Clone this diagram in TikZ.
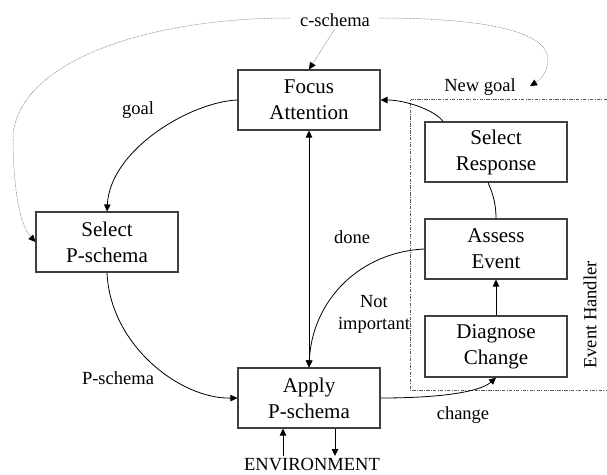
\documentclass[tikz,border=0pt]{standalone}
\usepackage{fontspec}
\setmainfont{Liberation Serif}
\usetikzlibrary{arrows.meta}
\begin{document}
\begin{tikzpicture}[x=1pt,y=-1pt,
  box/.style={draw=black!75, line width=1.1pt, fill=white,
    minimum width=142pt, minimum height=60pt, align=center, inner sep=0pt,
    font=\fontsize{21}{26}\selectfont},
  lbl/.style={font=\fontsize{18.5}{22}\selectfont, align=center, inner sep=2pt},
  tip/.tip={Triangle[length=7pt,width=6.5pt,color=black]},
  link/.style={line width=0.8pt, -tip},
  dlink/.style={line width=0.8pt, tip-tip},
  plain/.style={line width=0.8pt},
  hint/.style={draw=black!55, line width=0.5pt, dash pattern=on 0.7pt off 0.7pt, -tip},
  frame/.style={draw=black!65, line width=0.9pt,
    dash pattern=on 3.3pt off 1.3pt on 1pt off 1.3pt}
]
\useasboundingbox (0,0) rectangle (607,474);

% event handler frame (open to the right)
\draw[frame] (607,99.5) -- (410,99.5) -- (410,390) -- (607,390);

% process boxes
\node[box] (focus)  at (309,100)   {Focus\\Attention};
\node[box] (selp)   at (107,242)   {Select\\P-schema};
\node[box] (apply)  at (309,398)   {Apply\\P-schema};
\node[box] (selr)   at (496,152)   {Select\\Response};
\node[box] (assess) at (496,249)   {Assess\\Event};
\node[box, minimum height=61pt] (diag) at (496,346.5) {Diagnose\\Change};

% labels
\node[lbl] (cs)     at (335,20)  {c-schema};
\node[lbl] (ng)     at (480,87)  {New goal};
\node[lbl] (goal)   at (138,110) {goal};
\node[lbl] (done)   at (352,237) {done};
\node[lbl] (notimp) at (374,314) {Not\\important};
\node[lbl] (psl)    at (118,378) {P-schema};
\node[lbl] (chg)    at (463,415) {change};
\node[lbl, anchor=base, inner sep=0pt] (env) at (312,470) {ENVIRONMENT};
\node[lbl, rotate=90] (eh) at (590,315) {Event Handler};

% helper points
\coordinate (csl) at (290,18);
\coordinate (csr) at (378,18);
\coordinate (ngtip) at (530,86);
\coordinate (envup) at (283,456);
\coordinate (envdn) at (335,456);

% main flow
\draw[link] (focus.west) .. controls (190,102) and (110,150) .. (selp.north);
\draw[link] (selp.south) .. controls (110,345) and (180,399) .. (apply.west);
\draw[dlink] (focus.south) -- (apply.north);
\draw[link] (assess.west) .. controls (360,252) and (312,300) .. (apply.north);
\draw[link] (apply.east) .. controls (440,398) and (480,392) .. (diag.south);
\draw[link] (diag.north) -- (assess.south);
\draw[plain] (assess.north) .. controls (496,200) and (491,190) .. ([xshift=-8pt]selr.south);
\draw[link] ([xshift=-53pt]selr.north) .. controls (435,110) and (405,100) .. (focus.east);

% environment
\draw[link] (envup) -- (apply.south -| envup);
\draw[link] (apply.south -| envdn) -- (envdn);

% c-schema hints
\draw[hint] (csl) .. controls (150,18) and (20,60) .. (13,135)
  .. controls (13,190) and (20,225) .. (selp.west);
\draw[hint] (csr) .. controls (500,18) and (548,35) .. (548,60)
  .. controls (548,72) and (540,80) .. (ngtip);
\draw[hint] (cs.south) -- (focus.north);
\end{tikzpicture}
\end{document}
